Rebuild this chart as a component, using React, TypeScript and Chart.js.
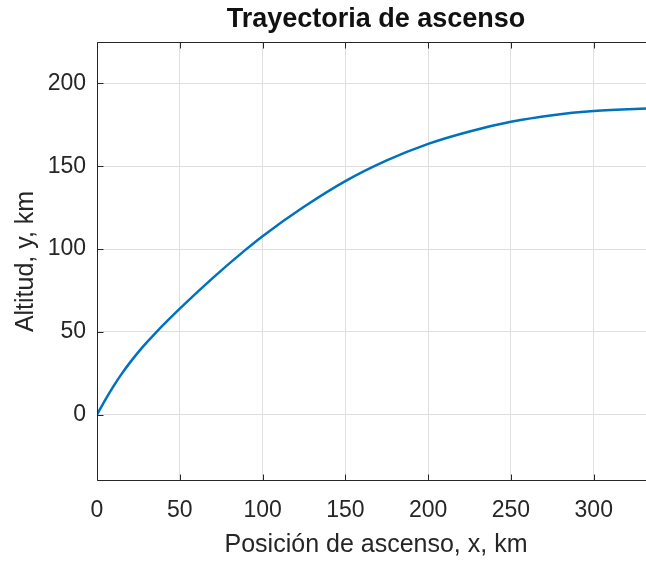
import React, { useEffect, useRef } from 'react';
import { Chart, registerables } from 'chart.js';

Chart.register(...registerables);

// Ascent trajectory: horizontal position (km) and altitude (km)
const xPositions = [0, 5, 10, 15, 20, 27.5, 35, 50, 70, 90, 100, 125, 150, 175, 200, 225, 250, 275, 300, 337];
const altitudes = [0, 9, 17.3, 24.8, 31.6, 40.8, 49, 64, 82.6, 99.8, 107.8, 125.5, 141, 153.5, 163.5, 171, 176.8, 180.8, 183.3, 185.1];

const xTicks = [0, 50, 100, 150, 200, 250, 300];
const yTicks = [0, 50, 100, 150, 200];
const xRange = [0, 337];
const yRange = [-40, 225];

const chartTitle = 'Trayectoria de ascenso';
const xLabel = 'Posición de ascenso, x, km';
const yLabel = 'Altitud, y, km';

const FONT = "'Liberation Sans', Arial, Helvetica, sans-serif";
const AXIS_COLOR = '#262626';

// Axes box with inward tick marks on all four sides
const framePlugin = {
  id: 'frame',
  afterDraw(chart: any) {
    const { ctx, chartArea } = chart;
    const xs = chart.scales.x;
    const ys = chart.scales.y;
    const l = Math.round(chartArea.left) + 0.5;
    const r = Math.round(chartArea.right) - 0.5;
    const t = Math.round(chartArea.top) + 0.5;
    const b = Math.round(chartArea.bottom) - 0.5;
    const tick = 6;
    ctx.save();
    ctx.strokeStyle = AXIS_COLOR;
    ctx.lineWidth = 1;
    ctx.beginPath();
    ctx.rect(l, t, r - l, b - t);
    xTicks.forEach((v) => {
      const px = Math.round(xs.getPixelForValue(v)) + 0.5;
      ctx.moveTo(px, b);
      ctx.lineTo(px, b - tick);
      ctx.moveTo(px, t);
      ctx.lineTo(px, t + tick);
    });
    yTicks.forEach((v) => {
      const py = Math.round(ys.getPixelForValue(v)) + 0.5;
      ctx.moveTo(l, py);
      ctx.lineTo(l + tick, py);
      ctx.moveTo(r, py);
      ctx.lineTo(r - tick, py);
    });
    ctx.stroke();
    ctx.restore();
  },
};

export default function App() {
  const canvasRef = useRef<HTMLCanvasElement | null>(null);

  useEffect(() => {
    const canvas = canvasRef.current;
    if (!canvas) return;
    const points = xPositions.map((x, i) => ({ x, y: altitudes[i] }));
    const chart = new Chart(canvas, {
      type: 'line',
      data: {
        datasets: [
          {
            data: points,
            borderColor: '#0072BD',
            borderWidth: 2.5,
            pointRadius: 0,
            fill: false,
            cubicInterpolationMode: 'monotone',
          },
        ],
      },
      options: {
        responsive: false,
        maintainAspectRatio: false,
        animation: false,
        devicePixelRatio: 1,
        layout: { padding: { top: 0, left: 0, right: 0, bottom: 0 } },
        plugins: {
          legend: { display: false },
          tooltip: { enabled: false },
          title: {
            display: true,
            text: chartTitle,
            fullSize: false,
            color: '#111111',
            font: { family: FONT, size: 27, weight: 'bold', lineHeight: 1.2 },
            padding: { top: 3.4, bottom: 6.2 },
          },
        },
        scales: {
          x: {
            type: 'linear',
            min: xRange[0],
            max: xRange[1],
            afterBuildTicks: (scale: any) => {
              scale.ticks = xTicks.map((value) => ({ value }));
            },
            afterFit: (scale: any) => {
              scale.height = 80;
            },
            grid: { color: '#dfdfdf', lineWidth: 1, drawTicks: false },
            border: { display: false },
            ticks: {
              color: AXIS_COLOR,
              font: { family: FONT, size: 23 },
              padding: 16,
              maxRotation: 0,
            },
            title: {
              display: true,
              text: xLabel,
              color: AXIS_COLOR,
              font: { family: FONT, size: 25 },
              padding: { top: 0, bottom: 0.5 },
            },
          },
          y: {
            type: 'linear',
            min: yRange[0],
            max: yRange[1],
            afterBuildTicks: (scale: any) => {
              scale.ticks = yTicks.map((value) => ({ value }));
            },
            afterFit: (scale: any) => {
              scale.width = 97;
            },
            grid: { color: '#dfdfdf', lineWidth: 1, drawTicks: false },
            border: { display: false },
            ticks: {
              color: AXIS_COLOR,
              font: { family: FONT, size: 23 },
              padding: 11,
            },
            title: {
              display: true,
              text: yLabel,
              color: AXIS_COLOR,
              font: { family: FONT, size: 25 },
              padding: { top: 11.3, bottom: 0 },
            },
          },
        },
      },
      plugins: [framePlugin],
    });
    return () => chart.destroy();
  }, []);

  return (
    <div
      style={{
        position: 'fixed',
        left: 0,
        top: 0,
        width: 646,
        height: 561,
        overflow: 'hidden',
        background: '#ffffff',
      }}
    >
      <canvas ref={canvasRef} width={655} height={561} style={{ display: 'block' }} />
    </div>
  );
}
